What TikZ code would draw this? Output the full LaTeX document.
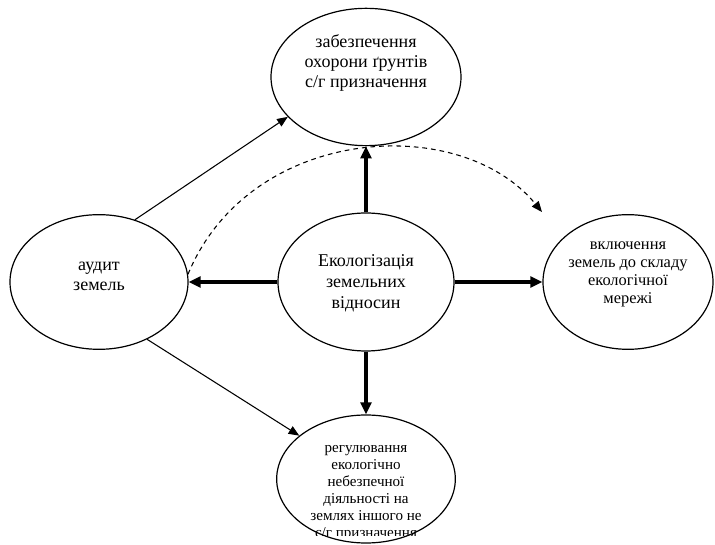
\documentclass[tikz,border=0pt]{standalone}
\usepackage{fontspec}
\setmainfont{Liberation Serif}
\usetikzlibrary{shapes.geometric,arrows.meta}

\begin{document}
\begin{tikzpicture}[x=0.75pt,y=-0.75pt,
  oval/.style={ellipse,draw,line width=0.9pt,inner sep=0pt},
  txt/.style={align=center,inner sep=0pt},
  heavy/.style={line width=2.4pt,-{Triangle[length=9pt,width=8pt]}},
  link/.style={line width=0.8pt,-{Triangle[length=8pt,width=6.5pt]}}]
\clip (0,0) rectangle (715,545);
% ovals
\node (1) at (366,282) [oval,minimum width=132pt,minimum height=103.5pt] {};
\node (2) at (366,77)  [oval,minimum width=142.5pt,minimum height=103pt] {};
\node (3) at (99,282)  [oval,minimum width=133.5pt,minimum height=101pt] {};
\node (4) at (628,282) [oval,minimum width=127.5pt,minimum height=101pt] {};
\node (5) at (366,479) [oval,minimum width=134pt,minimum height=96pt] {};
% texts
\node (t1) at (366,283) [txt,font=\fontsize{13.5}{15.75}\selectfont] {Екологізація\\земельних\\відносин};
\node (t2) at (366,63)  [txt,font=\fontsize{13.5}{15}\selectfont] {забезпечення\\охорони ґрунтів\\с/г призначення};
\node (t3) at (99,276)  [txt,font=\fontsize{13.5}{15}\selectfont] {аудит\\земель};
\node (t4) at (628,274) [txt,font=\fontsize{12.3}{13.5}\selectfont] {включення\\земель до складу\\екологічної\\мережі};
\begin{scope}
\clip (250,400) rectangle (480,536);
\node (t5) at (366,493) [txt,font=\fontsize{11.3}{12.75}\selectfont] {регулювання\\екологічно\\небезпечної\\діяльності на\\землях іншого не\\с/г призначення};
\end{scope}
\coordinate (d) at (542,212);
% connectors
\draw [heavy] (1.north) -- (2.south);
\draw [heavy] (1.west) -- (3.east);
\draw [heavy] (1.east) -- (4.west);
\draw [heavy] (1.south) -- (5.north);
\draw [link] (3.60) -- (2.207);
\draw [link] (3.-50) -- (5.147);
\draw [link,dash pattern=on 3.5pt off 3pt] (3.5) .. controls (250,125) and (460,112) .. (d);
\end{tikzpicture}
\end{document}
